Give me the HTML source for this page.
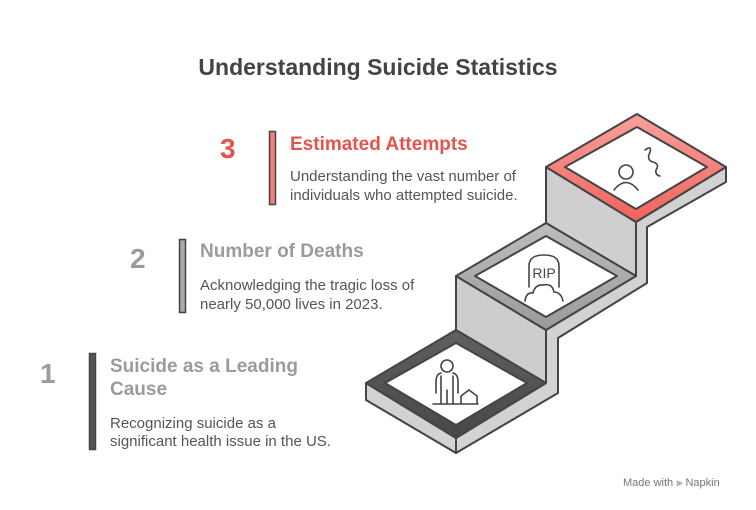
<!DOCTYPE html>
<html><head><meta charset="utf-8"><style>
body{margin:0;background:#fff;}
svg{display:block;font-family:"Liberation Sans",Arial,sans-serif;}
</style></head><body>
<svg width="756" height="510" viewBox="0 0 756 510" xmlns="http://www.w3.org/2000/svg">
<defs>
<linearGradient id="gr" x1="0" y1="0" x2="0" y2="1"><stop offset="0" stop-color="#f9a19c"/><stop offset="1" stop-color="#f0625c"/></linearGradient>
<linearGradient id="gg" x1="0" y1="0" x2="0" y2="1"><stop offset="0" stop-color="#bdbdbd"/><stop offset="1" stop-color="#9a9a9a"/></linearGradient>
<linearGradient id="gd" x1="0" y1="0" x2="0" y2="1"><stop offset="0" stop-color="#606060"/><stop offset="1" stop-color="#474747"/></linearGradient>
</defs>
<text x="378" y="75" text-anchor="middle" font-size="23" font-weight="bold" fill="#444">Understanding Suicide Statistics</text>

<!-- item 3 -->
<text x="220" y="158" font-size="28" font-weight="bold" fill="#e5534f">3</text>
<rect x="269.5" y="131.5" width="6" height="73" fill="#f47f7a" stroke="#444" stroke-width="1.5"/>
<text x="290" y="150" font-size="19" font-weight="bold" fill="#e5534f">Estimated Attempts</text>
<text x="290" y="181" font-size="15" fill="#555">Understanding the vast number of</text>
<text x="290" y="200" font-size="15" fill="#555">individuals who attempted suicide.</text>

<!-- item 2 -->
<text x="130" y="268" font-size="28" font-weight="bold" fill="#9b9b9b">2</text>
<rect x="179.5" y="239.5" width="6" height="73" fill="#aaa" stroke="#444" stroke-width="1.5"/>
<text x="200" y="257" font-size="19" font-weight="bold" fill="#9b9b9b">Number of Deaths</text>
<text x="200" y="290" font-size="15" fill="#555">Acknowledging the tragic loss of</text>
<text x="200" y="309" font-size="15" fill="#555">nearly 50,000 lives in 2023.</text>

<!-- item 1 -->
<text x="40" y="383" font-size="28" font-weight="bold" fill="#9b9b9b">1</text>
<rect x="89.5" y="353.5" width="6" height="96" fill="#555" stroke="#444" stroke-width="1.5"/>
<text x="110" y="372" font-size="19" font-weight="bold" fill="#9b9b9b">Suicide as a Leading</text>
<text x="110" y="395" font-size="19" font-weight="bold" fill="#9b9b9b">Cause</text>
<text x="110" y="428" font-size="15" fill="#555">Recognizing suicide as a</text>
<text x="110" y="446" font-size="15" fill="#555">significant health issue in the US.</text>

<g stroke="#444" stroke-width="2" stroke-linejoin="round">
<polygon points="726,167 726,182 647,227 647,283 558,338 558,393 456,453 456,438 546,383 546,330 636,276 636,222" fill="#d2d2d2"/>
<polygon points="546,167 636,222 636,276 546,223" fill="#cfcfcf"/>
<polygon points="456,276 546,330 546,383 456,330" fill="#cdcdcd"/>
<polygon points="366,383 456,438 456,453 366,400" fill="#d2d2d2"/>
<polygon points="637,114 726,167 636,222 546,167" fill="url(#gr)"/>
<polygon points="637,127 707,167 636,209 565,167" fill="#fff"/>
<polygon points="546,223 636,276 546,330 456,276" fill="url(#gg)"/>
<polygon points="546,236 617,276 546,317 475,276" fill="#fff"/>
<polygon points="456,330 546,383 456,438 366,383" fill="url(#gd)"/>
<polygon points="456,343 527,383 456,425 385,383" fill="#fff"/>
</g>

<g fill="none" stroke="#444" stroke-width="1.6" stroke-linecap="round">
<circle cx="626" cy="172" r="7"/>
<path d="M614 190 Q626 175 638 190"/>
<path d="M645 150 Q652 145 650 152 Q646 160 653 162 Q660 164 656 170 Q655 175 660 176"/>
<path d="M529 287 V266 Q529 255 544 255 Q559 255 559 266 V287"/>
<path d="M525 301 Q526 292 533 293 Q535 284 544 285 Q552 283 554 292 Q561 292 563 301"/>
<circle cx="447" cy="366" r="6"/>
<path d="M441 373 Q436 374 436 382 V393 M453 373 Q458 374 458 382 V393 M441 376 V404 M453 376 V404 M447 390 V404"/>
<path d="M433 404 H478 M461 404 V396 L469 390 L477 396 V404"/>
</g>
<text x="544" y="278" text-anchor="middle" font-size="14" fill="#444">RIP</text>

<text x="623" y="486" font-size="11" fill="#777">Made with ⫸ Napkin</text>
</svg>
</body></html>
